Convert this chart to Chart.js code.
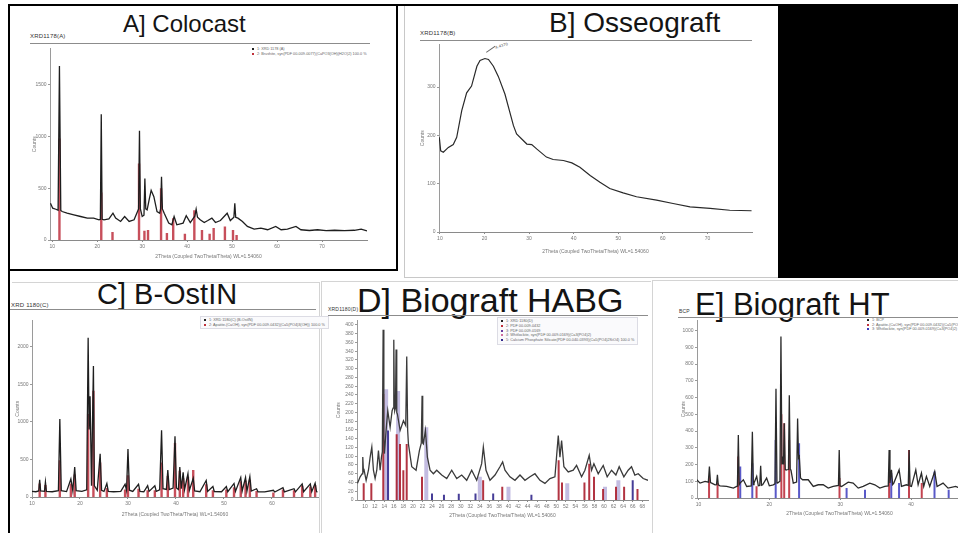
<!DOCTYPE html>
<html>
<head>
<meta charset="utf-8">
<title>XRD patterns</title>
<script src="https://cdn.jsdelivr.net/npm/chart.js@4.4.1/dist/chart.umd.min.js"></script>
<style>
  body { margin: 0; background: #fff; font-family: "Liberation Sans", Arial, sans-serif; }
  #page { position: relative; width: 958px; height: 533px; overflow: hidden; background: #fff; }
  .abs { position: absolute; }
  .title { position: absolute; line-height: 1; color: #141414; white-space: nowrap; }
  .tag { position: absolute; font-size: 6px; line-height: 1; color: #333; white-space: nowrap; letter-spacing: .2px; }
  .rule { position: absolute; height: 1px; background: #8c8c8c; }
  .legend { position: absolute; font-size: 3.8px; line-height: 4.6px; color: #666; white-space: nowrap; }
  .legend.box { border: 1px solid #dcdce4; background: #fafafc; padding: 1px 3px; }
  .mk { display: inline-block; width: 2px; height: 2px; margin-right: 3px; vertical-align: middle; }
  canvas { position: absolute; }
</style>
</head>
<body>
<div id="page">
  <!-- frame lines -->
  <div class="abs" style="left:8px;top:4px;width:950px;height:2px;background:#000"></div>
  <div class="abs" style="left:8px;top:4px;width:2px;height:529px;background:#000"></div>
  <div class="abs" style="left:396px;top:4px;width:2px;height:267px;background:#000"></div>
  <div class="abs" style="left:8px;top:269px;width:390px;height:2px;background:#000"></div>
  <div class="abs" style="left:404px;top:6px;width:1px;height:272px;background:#c8c8c8"></div>
  <div class="abs" style="left:404px;top:277px;width:374px;height:1px;background:#c8c8c8"></div>
  <div class="abs" style="left:778px;top:4px;width:180px;height:274px;background:#000"></div>
  <div class="abs" style="left:12px;top:282px;width:307px;height:1px;background:#d4d4d4"></div>
  <div class="abs" style="left:319px;top:282px;width:1px;height:251px;background:#d4d4d4"></div>
  <div class="abs" style="left:321px;top:281px;width:1px;height:252px;background:#d4d4d4"></div>
  <div class="abs" style="left:321px;top:281px;width:330px;height:1px;background:#d4d4d4"></div>
  <div class="abs" style="left:652px;top:280px;width:1px;height:253px;background:#d4d4d4"></div>
  <div class="abs" style="left:652px;top:280px;width:306px;height:1px;background:#d4d4d4"></div>

  <!-- A -->
  <div class="title" style="left:123px;top:12px;font-size:24px">A] Colocast</div>
  <div class="tag" style="left:30px;top:33px">XRD1178(A)</div>
  <div class="rule" style="left:30px;top:43px;width:340px"></div>
  <div class="legend" style="left:252px;top:47px">
    <div><span class="mk" style="background:#222"></span>1: XRD 1178 (A)</div>
    <div><span class="mk" style="background:#c0303a"></span>2: Brushite, syn(PDF 00-009-0077)(CaPO3(OH)(H2O)2) 100.0 %</div>
  </div>
  <canvas id="chartA" width="355" height="222" style="left:20px;top:44px"></canvas>

  <!-- B -->
  <div class="title" style="left:549px;top:9px;font-size:28px">B] Osseograft</div>
  <div class="tag" style="left:420px;top:30px">XRD1178(B)</div>
  <div class="rule" style="left:420px;top:40px;width:332px"></div>
  <div class="abs" style="left:486px;top:52px;width:11px;height:1px;background:#666;transform:rotate(-35deg);transform-origin:0 0"></div>
  <div class="tag" style="left:495px;top:44px;font-size:4px;color:#555;transform:rotate(-18deg)">4.4370</div>
  <canvas id="chartB" width="350" height="222" style="left:409px;top:40px"></canvas>

  <!-- C -->
  <div class="title" style="left:97px;top:280px;font-size:29px">C] B-OstIN</div>
  <div class="tag" style="left:11px;top:302px">XRD 1180(C)</div>
  <div class="rule" style="left:10px;top:309px;width:306px"></div>
  <div class="legend box" style="left:200px;top:316px">
    <div><span class="mk" style="background:#222"></span>1: XRD 1180(C) (B-OstIN)</div>
    <div><span class="mk" style="background:#c0303a"></span>2: Apatite-(CaOH), syn(PDF 00-009-0432)(Ca5(PO4)3(OH)) 100.0 %</div>
  </div>
  <canvas id="chartC" width="308" height="210" style="left:12px;top:316px"></canvas>

  <!-- D -->
  <div class="tag" style="left:328px;top:307px;font-size:5px">XRD1180(D)</div>
  <div class="title" style="left:357px;top:283px;font-size:34px">D] Biograft HABG</div>
  <div class="rule" style="left:328px;top:315px;width:320px"></div>
  <div class="legend box" style="left:497px;top:317px;line-height:4.8px">
    <div><span class="mk" style="background:#222"></span>1: XRD 1180(D)</div>
    <div><span class="mk" style="background:#c0303a"></span>2: PDF 00-009-0432</div>
    <div><span class="mk" style="background:#6a3aa0"></span>3: PDF 00-009-0169</div>
    <div><span class="mk" style="background:#d070a0"></span>4: Whitlockite, syn(PDF 00-009-0169)(Ca3(PO4)2)</div>
    <div><span class="mk" style="background:#32288c"></span>5: Calcium Phosphate Silicate(PDF 00-040-0393)(Ca5(PO4)2SiO4) 100.0 %</div>
  </div>
  <canvas id="chartD" width="316" height="212" style="left:334px;top:316px"></canvas>

  <!-- E -->
  <div class="tag" style="left:679px;top:309px;font-size:5px">BCP</div>
  <div class="title" style="left:695px;top:289px;font-size:31px">E] Biograft HT</div>
  <div class="rule" style="left:678px;top:317px;width:280px"></div>
  <div class="legend" style="left:867px;top:318px">
    <div><span class="mk" style="background:#222"></span>1: BCP</div>
    <div><span class="mk" style="background:#c0303a"></span>2: Apatite-(CaOH), syn(PDF 00-009-0432)(Ca5(PO4)3(OH))</div>
    <div><span class="mk" style="background:#3c3cbe"></span>3: Whitlockite, syn(PDF 00-009-0169)(Ca3(PO4)2)</div>
  </div>
  <canvas id="chartE" width="315" height="210" style="left:672px;top:316px"></canvas>
</div>

<script>
// ── Data (2theta, counts) ────────────────────────────────────
const colocastScan = [[9.6,355],[10.1,307],[10.8,297],[11.3,288],[11.6,1680],[11.9,285],[12.2,275],[13.3,259],
  [14.8,243],[16.3,227],[17.8,211],[19.2,211],[20.4,195],[20.7,200],[20.9,1215],[21.1,200],[21.5,195],[22.6,204],
  [23.5,259],[24.1,211],[25.2,179],[26.1,227],[27.1,179],[28.2,195],[28.8,259],[29.2,300],[29.4,1055],[29.6,300],
  [30.0,227],[30.4,240],[30.6,595],[30.8,300],[31.1,291],[31.6,400],[32.0,480],[32.6,419],[33.3,275],[33.9,259],
  [34.1,300],[34.3,610],[34.5,300],[34.9,259],[35.9,163],[36.6,147],[37.1,227],[37.7,147],[39.1,163],[39.8,235],
  [40.7,169],[41.7,230],[42.0,297],[42.3,220],[42.9,195],[43.8,169],[44.6,188],[45.5,211],[46.3,169],[47.4,188],
  [48.9,259],[49.6,188],[50.4,220],[50.6,355],[50.8,220],[51.3,211],[52.3,179],[53.4,131],[54.9,105],[56.4,115],
  [57.9,99],[59.7,131],[60.9,99],[62.3,105],[64.2,131],[65.3,99],[67.2,92],[69.0,99],[70.9,90],[72.8,94],
  [75.0,90],[77.2,94],[78.7,105],[80.0,88]];
const colocastRef = [[11.6,980],[20.9,460],[23.4,77],[29.3,740],[30.5,90],[31.3,96],[34.2,500],[35.5,67],
  [36.9,211],[39.5,60],[41.6,287],[43.3,96],[45.0,60],[45.9,115],[48.4,131],[50.2,96],[51.0,48]];
const colocastXTicks = [10, 20, 30, 40, 50, 60, 70];
const colocastYTicks = [0, 500, 1000, 1500];

const osseoScan = [[9.87,196],[10.18,168],[10.77,165],[11.9,175],[13.0,181],[13.77,196],[14.9,251],[16.0,288],
  [17.1,302],[18.3,343],[19.0,355],[20.1,359],[20.9,357],[22.0,343],[23.1,322],[24.6,285],[26.5,220],[27.2,203],
  [29.5,182],[30.6,181],[31.7,172],[33.9,155],[35.4,150],[37.7,148],[39.6,143],[41.4,134],[43.7,117],[45.9,103],
  [48.1,90],[51.1,81],[54.1,73],[58.6,66],[62.3,59],[66.1,52],[70.6,49],[75.0,45],[79.9,44]];
const osseoXTicks = [10, 20, 30, 40, 50, 60, 70];
const osseoYTicks = [0, 100, 200, 300];

const ostinScan = [[10.0,75],[10.8,70],[11.4,80],[11.6,230],[11.8,80],[12.6,75],[12.8,200],[13.0,75],[14.2,70],
  [15.5,85],[15.8,1040],[16.1,85],[17.2,72],[18.1,240],[18.5,85],[18.9,400],[19.2,85],[20.4,75],[21.4,95],
  [21.7,2120],[21.9,900],[22.1,1340],[22.4,150],[22.8,1745],[23.0,150],[23.6,90],[24.2,575],[24.5,90],[25.0,75],
  [25.6,180],[25.9,75],[27.0,70],[28.5,75],[29.4,170],[29.7,90],[30.0,640],[30.3,90],[31.0,75],[32.2,170],
  [32.5,75],[33.3,70],[34.1,150],[34.4,75],[35.6,150],[35.9,75],[36.6,95],[37.0,890],[37.3,110],[38.0,100],
  [38.3,360],[38.6,100],[39.4,120],[39.8,810],[40.1,120],[40.5,100],[40.8,400],[41.1,110],[41.5,330],[41.8,100],
  [42.5,310],[42.8,90],[43.6,250],[43.9,80],[45.0,70],[46.3,220],[46.6,75],[47.7,140],[48.0,72],[49.5,70],
  [50.5,140],[50.8,70],[52.1,180],[52.4,75],[53.5,260],[53.8,80],[54.5,260],[54.8,80],[55.4,270],[55.7,78],
  [56.8,110],[57.1,70],[58.5,68],[60.3,90],[60.6,66],[62.3,125],[62.6,68],[64.6,110],[64.9,68],[66.3,175],
  [66.6,70],[68.0,175],[68.3,70],[69.0,185],[69.3,70],[69.5,68]];
const ostinRef = [[11.6,180],[12.8,160],[15.8,490],[18.1,180],[18.9,300],[21.7,1105],[22.8,1415],[24.2,460],
  [25.6,120],[29.4,100],[30.0,290],[32.2,110],[34.1,90],[35.6,90],[37.0,460],[38.3,280],[39.8,720],[40.8,350],
  [41.5,250],[42.5,270],[43.6,360],[46.3,170],[47.7,90],[50.5,100],[52.1,130],[53.5,210],[54.5,220],[55.4,230],
  [56.8,80],[60.3,60],[62.3,100],[64.6,90],[66.3,150],[68.0,140],[69.0,160]];
const ostinXTicks = [10, 20, 30, 40, 50, 60];
const ostinYTicks = [0, 500, 1000, 1500, 2000];

const habgScan = [[8.4,38],[8.96,53],[9.4,60],[9.51,98],[9.65,65],[9.79,68],[10.21,45],[10.7,68],[11.05,98],
  [11.4,121],[11.74,68],[12.09,49],[12.44,68],[12.79,113],[13.14,68],[13.42,98],[13.6,110],[13.77,389],[13.92,140],
  [14.04,106],[14.39,159],[14.74,204],[15.23,166],[15.65,204],[15.85,210],[16.0,366],[16.12,220],[16.2,204],
  [16.35,210],[16.48,344],[16.62,200],[16.76,196],[17.32,159],[18.02,181],[18.5,170],[18.71,328],[18.9,160],
  [19.06,128],[19.76,76],[20.66,68],[21.36,113],[21.75,130],[21.92,238],[22.05,130],[22.19,128],[22.62,159],
  [23.03,98],[23.59,68],[24.29,60],[24.98,68],[26.03,57],[27.08,49],[28.12,68],[29.17,49],[30.21,57],[31.26,45],
  [32.3,68],[33.35,45],[34.39,83],[34.74,121],[35.3,68],[36.13,45],[37.18,57],[38.22,76],[38.78,87],[39.27,68],
  [40.31,53],[41.36,45],[42.41,57],[43.45,45],[44.5,53],[45.54,60],[46.59,45],[47.63,38],[48.68,49],[49.72,53],
  [50.42,147],[50.77,98],[51.12,136],[51.6,76],[52.51,64],[53.56,68],[54.25,79],[55.3,53],[56.0,68],[56.9,102],
  [57.39,68],[57.88,83],[58.78,60],[59.83,79],[60.66,53],[61.57,68],[62.48,57],[63.17,76],[64.15,53],[65.05,68],
  [65.75,76],[66.45,57],[67.15,60],[68.19,49],[69.2,45]];
const habgRefRed = [[9.7,38],[11.3,38],[13.8,242],[16.6,150],[17.3,128],[18.0,68],[18.7,128],[21.9,53],[34.7,45],
  [38.7,30],[50.5,91],[51.2,40],[55.9,40],[56.9,83],[57.9,53],[59.8,25],[62.5,30],[64.2,30],[67.0,25]];
const habgRefNavy = [[14.8,159],[24.0,15],[26.5,12],[29.6,14],[33.1,15],[36.8,15],[44.8,12],[66.0,45]];
const habgRefLilac = [[14.4,253],[16.9,249],[22.8,166],[34.0,53],[40.0,30],[52.3,38],[60.2,30],[63.0,45]];
const habgXTicks = [10,12,14,16,18,20,22,24,26,28,30,32,34,36,38,40,42,44,46,48,50,52,54,56,58,60,62,64,66,68];
const habgYTicks = [0,20,40,60,80,100,120,140,160,180,200,220,240,260,280,300,320,340,360,380,400];

const htScan = [[9.77,109],[10.23,89],[10.94,99],[11.4,95],[11.55,188],[11.7,92],[11.88,89],[12.35,79],[12.55,80],
  [12.68,139],[12.8,78],[13.05,73],[13.99,69],[14.93,59],[15.4,69],[15.5,70],[15.63,376],[15.75,80],[15.87,89],
  [16.34,109],[16.81,69],[17.45,72],[17.61,396],[17.75,80],[17.84,89],[18.22,129],[18.45,73],[18.65,75],[18.78,192],
  [18.9,76],[19.06,79],[19.62,119],[20.0,73],[20.56,79],[20.8,85],[20.94,653],[21.08,90],[21.17,89],[21.5,100],
  [21.64,964],[21.78,200],[21.88,248],[22.0,200],[22.11,446],[22.25,170],[22.35,168],[22.7,170],[22.82,614],
  [22.95,170],[23.05,168],[23.38,89],[23.85,95],[23.99,475],[24.12,240],[24.23,248],[24.4,120],[24.69,109],
  [25.49,109],[26.2,69],[26.9,79],[27.6,79],[28.31,59],[29.01,69],[29.75,75],[29.86,287],[29.98,72],[30.19,69],
  [31.13,95],[31.83,89],[32.54,59],[33.24,69],[34.18,89],[34.88,79],[35.59,59],[36.29,69],[36.78,72],[36.9,287],
  [37.02,90],[37.23,168],[37.4,80],[37.56,89],[38.31,168],[38.64,69],[39.34,79],[39.6,75],[39.72,287],[39.85,72],
  [40.05,69],[40.66,168],[40.99,79],[41.46,149],[41.78,69],[42.16,129],[42.63,69],[43.33,158],[43.66,69],
  [44.51,89],[45.21,59],[46.29,69],[47.32,50],[48.73,59],[49.5,60],[50.0,55]];
const htRefRed = [[11.5,129],[12.7,89],[15.6,248],[18.2,70],[21.7,500],[22.1,446],[22.8,346],[29.9,119],
  [36.9,150],[39.7,287],[41.5,90]];
const htRefBlue = [[15.9,188],[17.6,208],[20.9,346],[24.2,327],[30.9,60],[33.5,50],[37.2,149],[38.3,90],
  [43.3,158],[45.3,50]];
const htXTicks = [10, 20, 30, 40];
const htYTicks = [0,100,200,300,400,500,600,700,800,900,1000];

const X_TITLE = '2Theta (Coupled TwoTheta/Theta) WL=1.54060';
const FONT = '"Liberation Sans", Arial, sans-serif';

// ── Helpers ──────────────────────────────────────────────────
Chart.defaults.font.family = FONT;

const curve = pairs => pairs.map(([x, y]) => ({ x, y }));
// each reference line becomes a vertical stick from the baseline, separated by gaps
const sticks = pairs => {
  const out = [];
  pairs.forEach(([x, y]) => out.push({ x, y: 0 }, { x, y }, { x, y: null }));
  return out;
};
const scanSet = (pairs, color, width) => ({ data: curve(pairs), borderColor: color, borderWidth: width || 1.3 });
const stickSet = (pairs, color, width) => ({ data: sticks(pairs), borderColor: color, borderWidth: width || 2.2,
  borderCapStyle: 'butt', spanGaps: false });
const plain = v => String(v);

function drawXrd(id, o) {
  const tickFont = { family: FONT, size: 5 };
  return new Chart(document.getElementById(id), {
    type: 'line',
    data: { datasets: o.sets },
    options: {
      responsive: false, animation: false, devicePixelRatio: 1,
      layout: { padding: { left: 0, top: o.padTop, right: o.padRight, bottom: 0 }, autoPadding: false },
      plugins: { legend: { display: false }, tooltip: { enabled: false } },
      elements: { point: { radius: 0 }, line: { tension: 0 } },
      scales: {
        x: {
          type: 'linear', min: o.xMin, max: o.xMax,
          afterBuildTicks: s => { s.ticks = o.xTicks.map(v => ({ value: v })); },
          afterFit: s => { s.height = o.xHeight; },
          ticks: { autoSkip: false, maxRotation: 0, padding: 1.5, color: '#777', font: tickFont, callback: plain },
          grid: { display: true, drawOnChartArea: false, drawTicks: true, tickLength: 2, color: '#8a8a8a' },
          border: { display: true, color: '#8a8a8a', width: 1, dash: [2, 1.5] },
          title: { display: true, text: X_TITLE, color: '#777', font: tickFont,
                   padding: { top: 0, bottom: o.xTitlePad } }
        },
        y: {
          min: 0, max: o.yMax,
          afterBuildTicks: s => { s.ticks = o.yTicks.map(v => ({ value: v })); },
          afterFit: s => { s.width = o.yWidth; },
          ticks: { autoSkip: false, padding: 1.5, color: '#777', font: tickFont, callback: plain },
          grid: { display: true, drawOnChartArea: false, drawTicks: true, tickLength: 2, color: '#9a9a9a' },
          border: { display: true, color: '#9a9a9a', width: 1, dash: [1, 2] },
          title: { display: true, text: 'Counts', color: '#777', font: tickFont,
                   padding: { top: o.yTitlePad, bottom: 0 } }
        }
      }
    }
  });
}

// ── Panels ───────────────────────────────────────────────────
drawXrd('chartA', {
  sets: [scanSet(colocastScan, '#1e1e1e'), stickSet(colocastRef, 'rgba(185,35,50,0.8)', 2.4)],
  xMin: 9.5, xMax: 80, xTicks: colocastXTicks, yMax: 1850, yTicks: colocastYTicks,
  padTop: 3, padRight: 8, yWidth: 30, xHeight: 26, yTitlePad: 12, xTitlePad: 6
});

drawXrd('chartB', {
  sets: [scanSet(osseoScan, '#2a2a2a', 1.2)],
  xMin: 9.8, xMax: 80, xTicks: osseoXTicks, yMax: 388, yTicks: osseoYTicks,
  padTop: 3, padRight: 7, yWidth: 30, xHeight: 30, yTitlePad: 11, xTitlePad: 7
});

drawXrd('chartC', {
  sets: [scanSet(ostinScan, '#1e1e1e'), stickSet(ostinRef, 'rgba(185,35,50,0.8)', 2.4)],
  xMin: 10, xMax: 69.6, xTicks: ostinXTicks, yMax: 2350, yTicks: ostinYTicks,
  padTop: 4, padRight: 2, yWidth: 20, xHeight: 29, yTitlePad: 3, xTitlePad: 8
});

drawXrd('chartD', {
  sets: [scanSet(habgScan, '#3a3a3a'), stickSet(habgRefRed, 'rgba(170,30,45,0.9)', 2),
         stickSet(habgRefNavy, 'rgba(50,40,140,0.9)', 2), stickSet(habgRefLilac, 'rgba(175,165,215,0.75)', 4)],
  xMin: 8.3, xMax: 69.2, xTicks: habgXTicks, yMax: 410, yTicks: habgYTicks,
  padTop: 4, padRight: 2, yWidth: 23, xHeight: 28, yTitlePad: 1.3, xTitlePad: 9
});

drawXrd('chartE', {
  sets: [scanSet(htScan, '#2a2a2a'), stickSet(htRefRed, 'rgba(185,35,50,0.85)', 2),
         stickSet(htRefBlue, 'rgba(60,60,190,0.85)', 2)],
  xMin: 9.8, xMax: 50, xTicks: htXTicks, yMax: 1060, yTicks: htYTicks,
  padTop: 4, padRight: 5, yWidth: 25, xHeight: 28, yTitlePad: 9, xTitlePad: 9.7
});
</script>
</body>
</html>
